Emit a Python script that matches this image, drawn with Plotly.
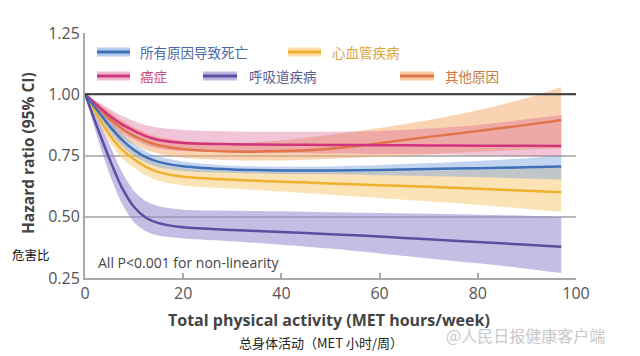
import plotly.graph_objects as go

# ---- data ----
met = [0, 2.5, 5, 7.5, 10, 12.5, 15, 20, 30, 40, 50, 60, 70, 80, 90, 97]

all_cause = [1.0, 0.935, 0.87, 0.815, 0.772, 0.742, 0.724, 0.706, 0.693, 0.689, 0.689, 0.691, 0.695, 0.698, 0.702, 0.705]
all_lo = [1.0, 0.92, 0.847, 0.79, 0.748, 0.72, 0.702, 0.687, 0.679, 0.675, 0.673, 0.669, 0.665, 0.661, 0.656, 0.652]
all_hi = [1.0, 0.95, 0.893, 0.84, 0.797, 0.765, 0.746, 0.726, 0.708, 0.704, 0.705, 0.711, 0.719, 0.728, 0.739, 0.75]

cvd = [1.0, 0.915, 0.835, 0.775, 0.735, 0.703, 0.682, 0.663, 0.651, 0.643, 0.636, 0.629, 0.622, 0.614, 0.606, 0.6]
cvd_lo = [1.0, 0.895, 0.805, 0.74, 0.70, 0.668, 0.647, 0.628, 0.615, 0.603, 0.59, 0.577, 0.563, 0.548, 0.532, 0.52]
cvd_hi = [1.0, 0.935, 0.865, 0.81, 0.77, 0.738, 0.717, 0.697, 0.687, 0.683, 0.683, 0.685, 0.688, 0.691, 0.696, 0.70]

cancer = [1.0, 0.955, 0.912, 0.877, 0.851, 0.828, 0.813, 0.801, 0.796, 0.794, 0.793, 0.792, 0.791, 0.79, 0.79, 0.789]
cancer_lo = [1.0, 0.94, 0.882, 0.842, 0.815, 0.792, 0.779, 0.768, 0.762, 0.76, 0.758, 0.756, 0.754, 0.751, 0.748, 0.745]
cancer_hi = [1.0, 0.97, 0.94, 0.912, 0.89, 0.873, 0.863, 0.854, 0.848, 0.847, 0.847, 0.85, 0.86, 0.875, 0.898, 0.915]

resp = [1.0, 0.865, 0.735, 0.62, 0.54, 0.495, 0.474, 0.457, 0.446, 0.438, 0.429, 0.419, 0.408, 0.397, 0.386, 0.378]
resp_lo = [1.0, 0.825, 0.675, 0.555, 0.478, 0.44, 0.423, 0.411, 0.40, 0.386, 0.37, 0.35, 0.33, 0.31, 0.288, 0.27]
resp_hi = [1.0, 0.905, 0.795, 0.685, 0.605, 0.562, 0.543, 0.529, 0.525, 0.522, 0.518, 0.515, 0.512, 0.508, 0.504, 0.50]

other = [1.0, 0.95, 0.90, 0.86, 0.83, 0.807, 0.792, 0.776, 0.766, 0.768, 0.778, 0.80, 0.826, 0.85, 0.875, 0.895]
other_lo = [1.0, 0.935, 0.87, 0.825, 0.795, 0.772, 0.757, 0.741, 0.731, 0.73, 0.737, 0.745, 0.755, 0.765, 0.775, 0.78]
other_hi = [1.0, 0.965, 0.93, 0.895, 0.865, 0.842, 0.827, 0.811, 0.80, 0.812, 0.835, 0.862, 0.895, 0.935, 0.985, 1.03]

x_ticks = [0, 20, 40, 60, 80, 100]
y_ticks = [0.25, 0.50, 0.75, 1.00, 1.25]
y_ticktext = ["0.25", "0.50", "0.75", "1.00", "1.25"]

names = ["所有原因导致死亡", "心血管疾病", "癌症", "呼吸道疾病", "其他原因"]

# ---- styles ----
series = [
    # name, mid, lo, hi, line colour, band colour
    (names[4], other, other_lo, other_hi, "#e2744a", "rgba(244,175,115,0.55)"),
    (names[2], cancer, cancer_lo, cancer_hi, "#d1347c", "rgba(220,100,150,0.38)"),
    (names[1], cvd, cvd_lo, cvd_hi, "#f0b030", "rgba(250,200,110,0.5)"),
    (names[0], all_cause, all_lo, all_hi, "#3f6fb5", "rgba(120,160,222,0.45)"),
    (names[3], resp, resp_lo, resp_hi, "#5b4ea0", "rgba(150,135,205,0.55)"),
]

fig = go.Figure()

for name, mid, lo, hi, lc, bc in series:
    fig.add_trace(go.Scatter(x=met, y=lo, mode="lines", line=dict(width=0, shape="spline", smoothing=0.8),
                             hoverinfo="skip", showlegend=False))
    fig.add_trace(go.Scatter(x=met, y=hi, mode="lines", line=dict(width=0, shape="spline", smoothing=0.8),
                             fill="tonexty", fillcolor=bc, hoverinfo="skip", showlegend=False))

for name, mid, lo, hi, lc, bc in series:
    fig.add_trace(go.Scatter(x=met, y=mid, mode="lines", name=name,
                             line=dict(color=lc, width=2.5, shape="spline", smoothing=0.8),
                             showlegend=False))

font_main = "Open Sans, Liberation Sans, sans-serif"
font_cjk = "Noto Sans CJK SC, sans-serif"

shapes = [
    dict(type="line", xref="x", yref="y", x0=0, x1=100, y0=1.0, y1=1.0,
         line=dict(color="#3a3a3a", width=2), layer="above"),
]
annotations = []

# manual legend (paper coords)
W, H, L, T = 491.0, 245.0, 85.0, 33.0
def px(xp):
    return (xp - L) / W
def py(yp):
    return (T + H - yp) / H

legend_items = [
    (names[0], 97, 130, 138, 52, "#3f6fb5", "rgba(120,160,222,0.55)", "#4a6aa5"),
    (names[1], 288, 321, 330, 52, "#f0b030", "rgba(250,200,110,0.6)", "#dba53a"),
    (names[2], 97, 130, 138, 76, "#d1347c", "rgba(220,100,150,0.45)", "#c9508a"),
    (names[3], 203, 237, 247, 76, "#5b4ea0", "rgba(150,135,205,0.6)", "#5b5c8e"),
    (names[4], 400, 434, 443, 76, "#e2744a", "rgba(244,175,115,0.65)", "#c97a40"),
]
for name, x0, x1, xt, yc, lc, bc, tc in legend_items:
    shapes.append(dict(type="rect", xref="paper", yref="paper", x0=px(x0), x1=px(x1),
                       y0=py(yc + 4.5), y1=py(yc - 4.5), line=dict(width=0), fillcolor=bc))
    shapes.append(dict(type="line", xref="paper", yref="paper", x0=px(x0), x1=px(x1),
                       y0=py(yc), y1=py(yc), line=dict(color=lc, width=3)))
    annotations.append(dict(xref="paper", yref="paper", x=px(xt), y=py(yc), text=name,
                            showarrow=False, xanchor="left", yanchor="middle",
                            font=dict(family=font_cjk, size=13.5, color=tc)))

annotations += [
    dict(xref="paper", yref="paper", x=px(96), y=py(262), text="All P<0.001 for non-linearity",
         showarrow=False, xanchor="left", yanchor="middle",
         font=dict(family=font_main, size=14, color="#454545")),
    dict(xref="paper", yref="paper", x=px(329), y=py(320), text="<b>Total physical activity (MET hours/week)</b>",
         showarrow=False, xanchor="center", yanchor="middle",
         font=dict(family=font_main, size=16, color="#444444")),
    dict(xref="paper", yref="paper", x=px(321), y=py(342), text="总身体活动（MET 小时/周）",
         showarrow=False, xanchor="center", yanchor="middle",
         font=dict(family=font_cjk, size=13, color="#222222")),
    dict(xref="paper", yref="paper", x=px(28), y=py(153), text="<b>Hazard ratio (95% CI)</b>",
         showarrow=False, textangle=-90, xanchor="center", yanchor="middle",
         font=dict(family=font_main, size=15.5, color="#444444")),
    dict(xref="paper", yref="paper", x=px(10), y=py(254), text="危害比",
         showarrow=False, xanchor="left", yanchor="middle",
         font=dict(family=font_cjk, size=12.5, color="#111111")),
    dict(xref="paper", yref="paper", x=px(444), y=py(335), text="@人民日报健康客户端",
         showarrow=False, xanchor="left", yanchor="middle",
         font=dict(family=font_cjk, size=16, color="#c8c8c8")),
]

fig.update_layout(
    width=640, height=356,
    margin=dict(l=85, r=64, t=33, b=78),
    paper_bgcolor="white", plot_bgcolor="white",
    showlegend=False,
    shapes=shapes, annotations=annotations,
    font=dict(family=font_main, color="#555555"),
    xaxis=dict(range=[0, 100], tickvals=x_ticks, showgrid=False, zeroline=False,
               showline=True, linecolor="#a8a8a8", linewidth=2,
               ticks="inside", ticklen=5, tickcolor="#a8a8a8", tickwidth=1.5,
               tickfont=dict(size=16, color="#555555")),
    yaxis=dict(range=[0.25, 1.25], tickvals=y_ticks, ticktext=y_ticktext,
               showgrid=True, gridcolor="#b8b8b8", gridwidth=1.5, zeroline=False,
               showline=True, linecolor="#a8a8a8", linewidth=2, ticks="",
               tickfont=dict(size=16, color="#555555")),
)

fig.write_html("out.html", config={"displayModeBar": False},
               post_script="document.body.style.margin='0';")
